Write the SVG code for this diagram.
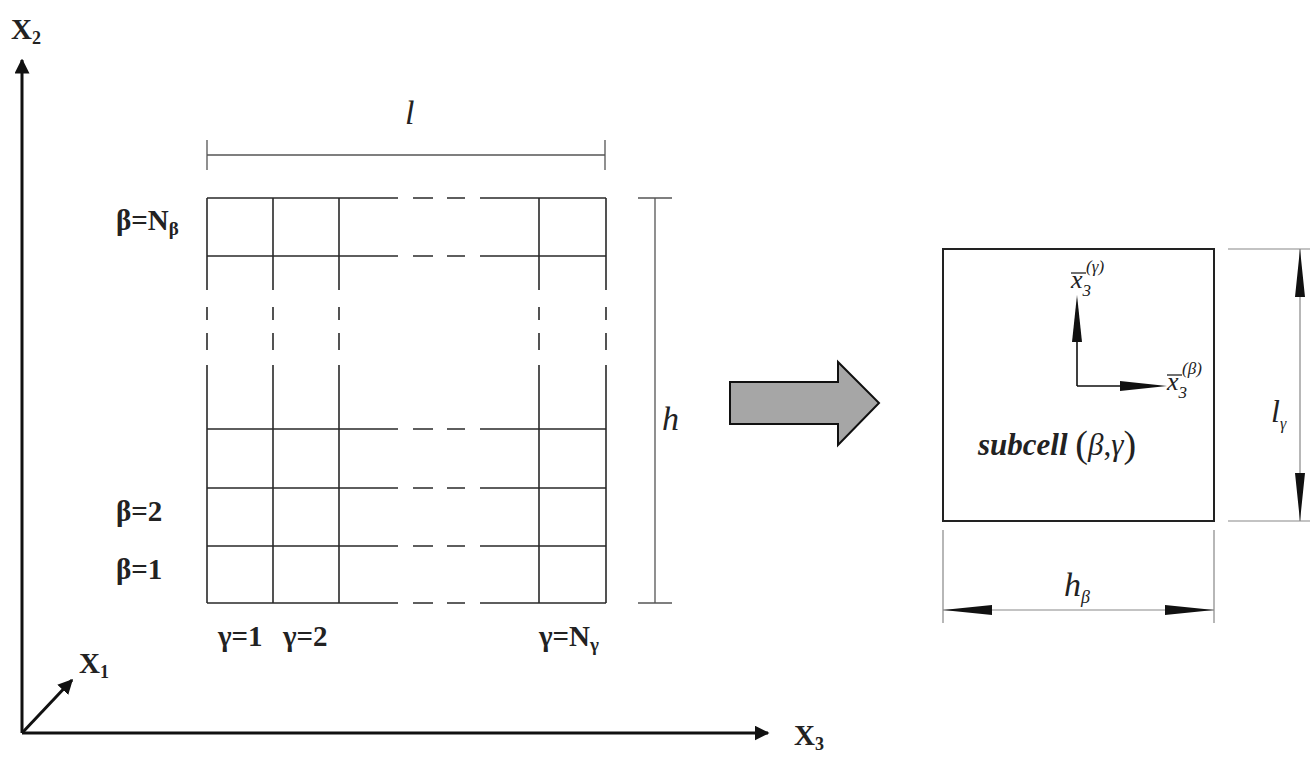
<svg xmlns="http://www.w3.org/2000/svg" width="1316" height="760" viewBox="0 0 1316 760">
<style>
.g{stroke:#2a2a2a;stroke-width:1.6;fill:none}
.d{stroke:#555;stroke-width:1.3;fill:none}
.t{font-family:"Liberation Serif","Times New Roman",serif;fill:#222}
.b{font-weight:bold}
.i{font-style:italic}
.ax{stroke:#111;stroke-width:3;fill:none}
</style>
<defs>
<marker id="ah" viewBox="0 0 10 10" refX="9" refY="5" markerWidth="5" markerHeight="5" orient="auto" markerUnits="strokeWidth"><path d="M0,0 L10,5 L0,10 z" fill="#111"/></marker>
</defs>
<rect width="1316" height="760" fill="#fff"/>
<g id="axes">
<line class="ax" x1="22" y1="733" x2="22" y2="60" marker-end="url(#ah)"/>
<line class="ax" x1="22" y1="733" x2="768" y2="733" marker-end="url(#ah)"/>
<line class="ax" x1="22" y1="733" x2="72" y2="680" marker-end="url(#ah)"/>
<text class="t b" x="11" y="39" font-size="29">X<tspan font-size="18" dy="5">2</tspan></text>
<text class="t b" x="79" y="673" font-size="29">X<tspan font-size="18" dy="5">1</tspan></text>
<text class="t b" x="794" y="745" font-size="29">X<tspan font-size="18" dy="5">3</tspan></text>
</g>
<g id="grid">
<g class="g">
<path d="M207,198 H398 M413,198 H433 M447,198 H465 M480,198 H606"/>
<path d="M207,256 H398 M413,256 H433 M447,256 H465 M480,256 H606"/>
<path d="M207,429 H398 M413,429 H433 M447,429 H465 M480,429 H606"/>
<path d="M207,488 H398 M413,488 H433 M447,488 H465 M480,488 H606"/>
<path d="M207,546 H398 M413,546 H433 M447,546 H465 M480,546 H606"/>
<path d="M207,603 H398 M413,603 H433 M447,603 H465 M480,603 H606"/>
<path d="M207,198 V290 M207,307 V320 M207,333 V350 M207,365 V603"/>
<path d="M273,198 V290 M273,307 V320 M273,333 V350 M273,365 V603"/>
<path d="M339,198 V290 M339,307 V320 M339,333 V350 M339,365 V603"/>
<path d="M539,198 V290 M539,307 V320 M539,333 V350 M539,365 V603"/>
<path d="M606,198 V290 M606,307 V320 M606,333 V350 M606,365 V603"/>
</g>
<text class="t b" x="116" y="230" font-size="29">β=N<tspan font-size="19" dy="5">β</tspan></text>
<text class="t b" x="116" y="521" font-size="29">β=2</text>
<text class="t b" x="116" y="579" font-size="29">β=1</text>
<text class="t b" x="218" y="646" font-size="29">γ=1</text>
<text class="t b" x="283" y="646" font-size="29">γ=2</text>
<text class="t b" x="539" y="646" font-size="29">γ=N<tspan font-size="19" dy="5">γ</tspan></text>
</g>
<g id="dim-l">
<path class="d" d="M207,155 H605 M207,140 V170 M605,140 V170" stroke-width="1.8"/>
<text class="t i" x="405" y="124" font-size="34">l</text>
</g>
<g id="dim-h">
<path class="d" d="M655,198 V603 M638,198 H672 M638,603 H672"/>
<text class="t i" x="662" y="430" font-size="34">h</text>
</g>
<g id="big-arrow">
<path d="M730,382 H838 V362 L879,403 L838,445 V424 H730 Z" fill="#a6a6a6" stroke="#111" stroke-width="2"/>
</g>
<g id="subcell">
<rect x="943" y="249" width="271" height="272" fill="none" stroke="#222" stroke-width="2"/>
<path d="M1077,386 V340 M1077,386 H1120" stroke="#111" stroke-width="1.6" fill="none"/>
<path d="M1077,295 L1072,342 L1082,342 Z" fill="#111"/>
<path d="M1167,386 L1120,381 L1120,391 Z" fill="#111"/>
<text class="t i" x="1071" y="288" font-size="26">x<tspan font-size="17" dy="8">3</tspan><tspan font-size="17" dx="-5" dy="-24">(γ)</tspan></text>
<path d="M1071,273 H1086" stroke="#222" stroke-width="1.3"/>
<text class="t i" x="1167" y="390" font-size="26">x<tspan font-size="17" dy="8">3</tspan><tspan font-size="17" dx="-5" dy="-24">(β)</tspan></text>
<path d="M1167,375 H1182" stroke="#222" stroke-width="1.3"/>
<text class="t" x="978" y="455" font-size="31"><tspan class="b i">subcell</tspan> <tspan font-size="38" dy="2">(</tspan><tspan class="i" dy="-2">β</tspan>,<tspan class="i">γ</tspan><tspan font-size="38" dy="2">)</tspan></text>
</g>
<g id="dim-lgamma">
<path d="M1228,249 H1310 M1228,521 H1310 M1300,249 V521" stroke="#888" stroke-width="1.2" fill="none"/>
<path d="M1300,249 L1295,297 L1305,297 Z M1300,521 L1295,473 L1305,473 Z" fill="#111"/>
<text class="t i" x="1271" y="422" font-size="32">l<tspan font-size="16" dy="7">γ</tspan></text>
</g>
<g id="dim-hbeta">
<path d="M943,530 V623 M1214,530 V623 M943,610 H1214" stroke="#888" stroke-width="1.2" fill="none"/>
<path d="M943,610 L992,605 L992,615 Z M1214,610 L1165,605 L1165,615 Z" fill="#111"/>
<text class="t i" x="1064" y="596" font-size="34">h<tspan font-size="18" dy="7">β</tspan></text>
</g>
</svg>
